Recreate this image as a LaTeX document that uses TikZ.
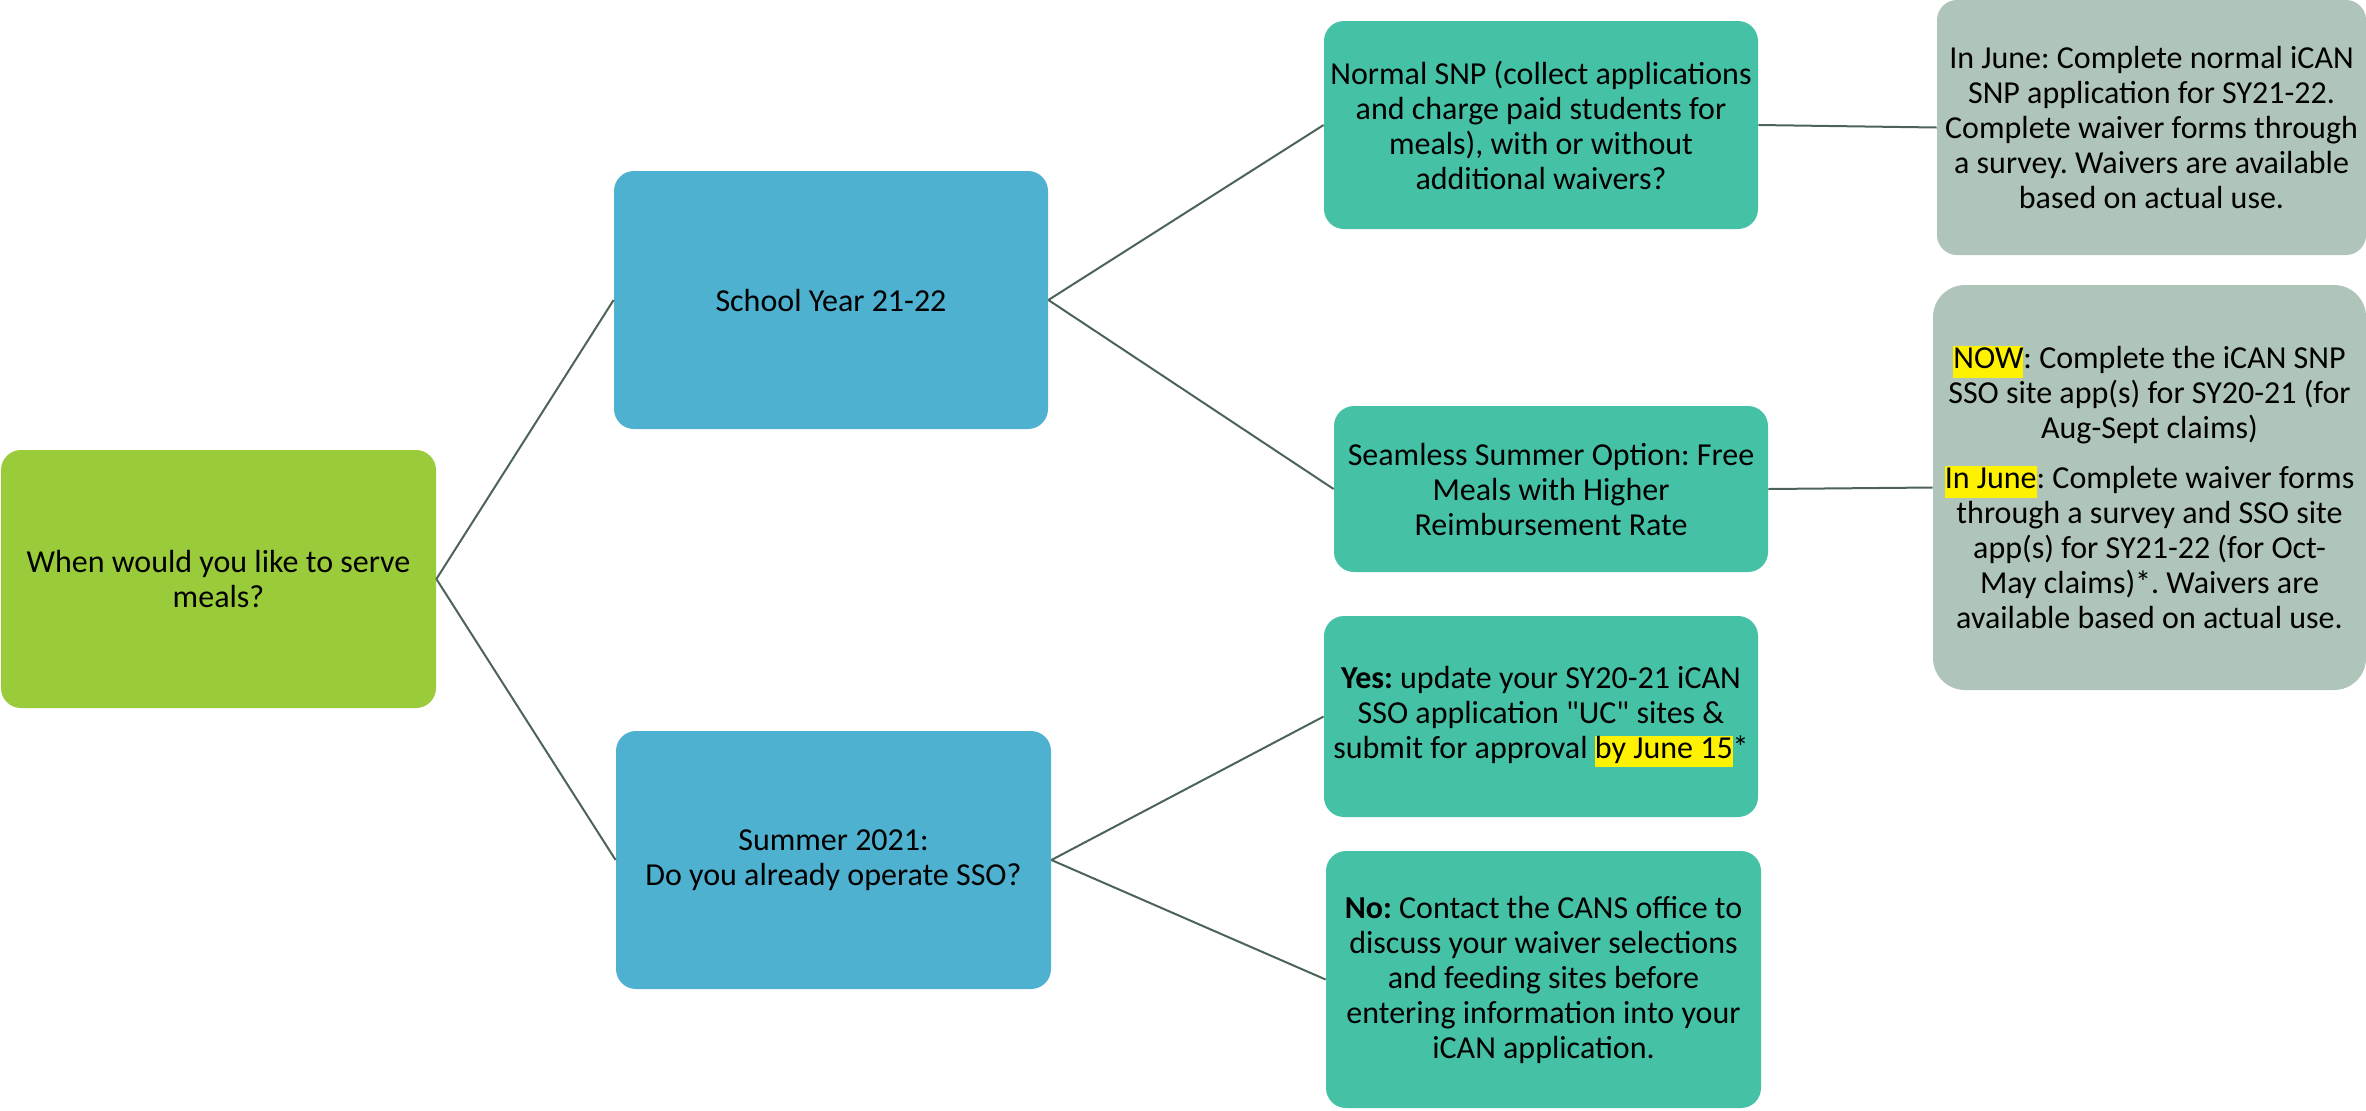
\documentclass[tikz,border=0pt]{standalone}
\usepackage{fontspec}
\setmainfont{Carlito}
\usepackage{xcolor}
\definecolor{rootgreen}{RGB}{154,203,58}
\definecolor{midblue}{RGB}{77,177,207}
\definecolor{teal}{RGB}{69,193,165}
\definecolor{sage}{RGB}{175,197,186}
\definecolor{linkcol}{RGB}{76,100,88}
\newcommand\hlt[1]{{\setlength{\fboxsep}{0pt}\colorbox{yellow}{\rule[-0.28em]{0pt}{0.98em}#1}}}
\frenchspacing
\begin{document}
\begin{tikzpicture}[x=0.5pt,y=-0.5pt,
  box/.style={rectangle, rounded corners=10pt, draw=none, inner sep=0pt, align=center,
    font=\fontsize{16}{17.5}\selectfont, text=black},
  rootbox/.style={box, fill=rootgreen},
  bluebox/.style={box, fill=midblue},
  tealbox/.style={box, fill=teal},
  sagebox/.style={box, fill=sage},
  link/.style={draw=linkcol, line width=1pt}]
\useasboundingbox (0,0) rectangle (2366,1110);
\node[rootbox, minimum width=217.5pt, minimum height=129pt] (root) at (218.5,579)
  {When would you like to serve\\meals?};
\node[bluebox, minimum width=217pt, minimum height=129pt] (sy) at (831,300)
  {School Year 21-22};
\node[bluebox, minimum width=217.5pt, minimum height=129pt] (sum) at (833.5,860)
  {Summer 2021:\\Do you already operate SSO?};
\node[tealbox, minimum width=217pt, minimum height=104pt] (snp) at (1541,125)
  {Normal SNP (collect applications\\and charge paid students for\\meals), with or without\\additional waivers?};
\node[tealbox, minimum width=217pt, minimum height=83pt] (sso) at (1551,489)
  {Seamless Summer Option: Free\\Meals with Higher\\Reimbursement Rate};
\node[tealbox, minimum width=217pt, minimum height=100.5pt] (yes) at (1541,716.5)
  {\textbf{Yes:} update your SY20-21 iCAN\\SSO application \textquotedbl UC\textquotedbl{} sites \&\\submit for approval \hlt{by June 15}*};
\node[tealbox, minimum width=217.5pt, minimum height=128.5pt] (no) at (1543.5,979.5)
  {\textbf{No:} Contact the CANS office to\\discuss your waiver selections\\and feeding sites before\\entering information into your\\iCAN application.};
\node[sagebox, minimum width=214.5pt, minimum height=127.5pt] (g1) at (2151.5,127.5)
  {In June: Complete normal iCAN\\SNP application for SY21-22.\\Complete waiver forms through\\a survey. Waivers are available\\based on actual use.};
\node[sagebox, rounded corners=16pt, minimum width=216.5pt, minimum height=202.5pt] (g2) at (2149.5,487.5)
  {\hlt{NOW}: Complete the iCAN SNP\\SSO site app(s) for SY20-21 (for\\Aug-Sept claims)\\[7.5pt]
   \hlt{In June}: Complete waiver forms\\through a survey and SSO site\\app(s) for SY21-22 (for Oct-\\May claims)*. Waivers are\\available based on actual use.};
\draw[link] (root.east) -- (sy.west);
\draw[link] (root.east) -- (sum.west);
\draw[link] (sy.east) -- (snp.west);
\draw[link] (sy.east) -- (sso.west);
\draw[link] (sum.east) -- (yes.west);
\draw[link] (sum.east) -- (no.west);
\draw[link] (snp.east) -- (g1.west);
\draw[link] (sso.east) -- (g2.west);
\end{tikzpicture}
\end{document}
